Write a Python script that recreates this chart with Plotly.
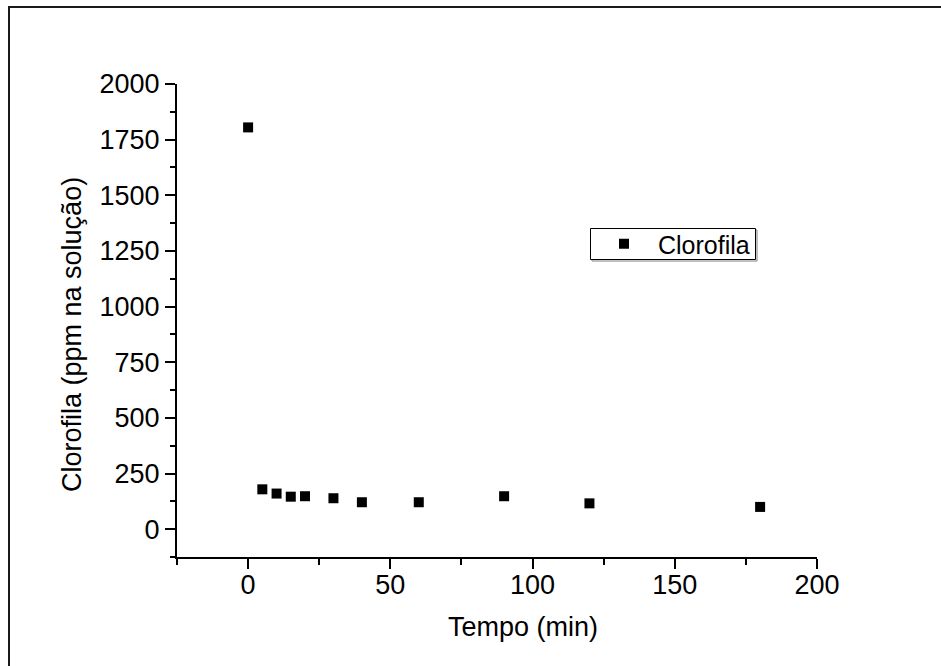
import plotly.graph_objects as go

# Data
tempo_min = [0, 5, 10, 15, 20, 30, 40, 60, 90, 120, 180]
clorofila_ppm = [1805, 179, 160, 146, 148, 139, 121, 121, 148, 116, 100]
series_name = "Clorofila"
x_title = "Tempo (min)"
y_title = "Clorofila (ppm na solução)"

W, H = 941, 666
L, R, T, B = 177, 124, 84, 109
pw, ph = W - L - R, H - T - B

def px_x(p):
    return (p - L) / pw

def px_y(p):
    return (H - B - p) / ph

FONT = "Liberation Sans, Arial, sans-serif"

fig = go.Figure()
fig.add_trace(go.Scatter(
    x=tempo_min, y=clorofila_ppm, mode="markers", name=series_name,
    marker=dict(symbol="square", size=10, color="black", line=dict(width=0)),
    showlegend=True,
))

axis_common = dict(
    showline=True, linecolor="black", linewidth=2,
    ticks="outside", ticklen=10, tickwidth=2, tickcolor="black",
    showgrid=False, zeroline=False, mirror=False,
    tickfont=dict(family=FONT, size=27, color="black"),
)

fig.update_xaxes(
    range=[-25, 200], tickmode="linear", tick0=0, dtick=50,
    ticklabelstandoff=-7,
    minor=dict(ticks="outside", ticklen=6, tickwidth=2, tickcolor="black",
               tick0=-25, dtick=25, showgrid=False),
    **axis_common,
)
fig.update_yaxes(
    range=[-125, 2000], tickmode="linear", tick0=0, dtick=250,
    minor=dict(ticks="outside", ticklen=5, tickwidth=2, tickcolor="black",
               tick0=-125, dtick=125, showgrid=False),
    **axis_common,
)

fig.update_layout(
    width=W, height=H,
    margin=dict(l=L, r=R, t=T, b=B, pad=0),
    paper_bgcolor="white", plot_bgcolor="white",
    font=dict(family=FONT, size=27, color="black"),
    legend=dict(
        x=px_x(590), y=px_y(221), xanchor="left", yanchor="top",
        bgcolor="rgba(0,0,0,0)", bordercolor="black", borderwidth=0,
        font=dict(family=FONT, size=25, color="black"),
        itemwidth=58, tracegroupgap=0,
    ),
    annotations=[
        dict(text=x_title, xref="paper", yref="paper",
             x=px_x(523), y=px_y(627), xanchor="center", yanchor="middle",
             showarrow=False, font=dict(family=FONT, size=27, color="black")),
        dict(text=y_title, xref="paper", yref="paper",
             x=px_x(72), y=px_y(335), xanchor="center", yanchor="middle",
             textangle=-90, showarrow=False,
             font=dict(family=FONT, size=27, color="black")),
    ],
    shapes=[
        # outer frame
        dict(type="rect", xref="paper", yref="paper",
             x0=px_x(9), x1=px_x(950), y0=px_y(7), y1=px_y(680),
             line=dict(color="#1a1a1a", width=2), fillcolor="rgba(0,0,0,0)",
             layer="above"),
        # legend shadow
        dict(type="rect", xref="paper", yref="paper",
             x0=px_x(592), x1=px_x(757), y0=px_y(230), y1=px_y(261),
             line=dict(color="#808080", width=1), fillcolor="rgba(0,0,0,0)",
             layer="below"),
        # legend box
        dict(type="rect", xref="paper", yref="paper",
             x0=px_x(590.5), x1=px_x(755.5), y0=px_y(228.5), y1=px_y(259.5),
             line=dict(color="black", width=1), fillcolor="white",
             layer="below"),
    ],
)

fig.write_html("out.html")
